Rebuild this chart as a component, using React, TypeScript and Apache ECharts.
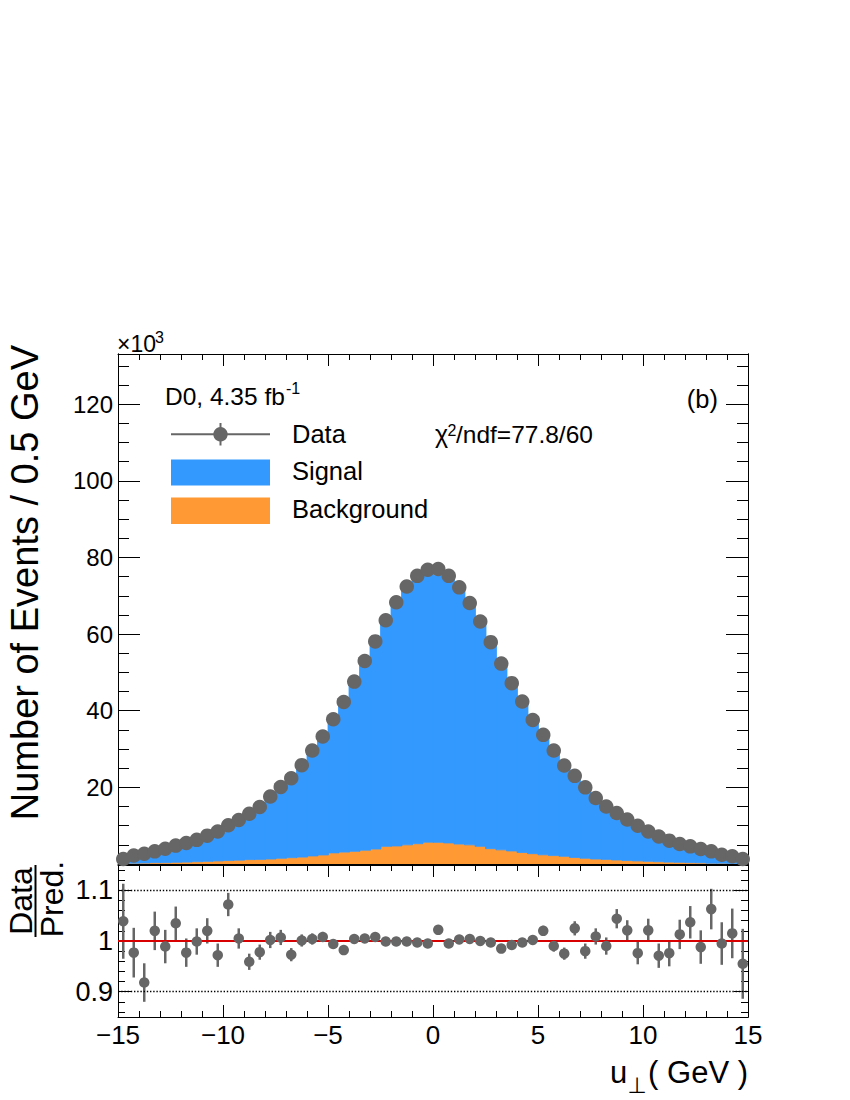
import React, { useEffect, useRef } from "react";
import * as echarts from "echarts";

// ---------- data (values in units of 10^3 events per 0.5 GeV) ----------
const BIN_START = -15;
const BIN_WIDTH = 0.5;

const dataCounts = [
  1.3, 2.2, 2.7, 3.3, 4.0, 4.8, 5.5, 6.3, 7.4, 8.5,
  10.1, 11.5, 13.1, 14.9, 17.6, 20.1, 22.4, 25.8, 29.6, 33.3,
  37.8, 42.3, 47.6, 53.0, 58.1, 63.6, 68.3, 72.4, 75.2, 76.8,
  77.0, 75.2, 72.2, 68.1, 63.3, 57.9, 52.3, 47.2, 42.4, 37.6,
  33.7, 29.6, 25.7, 23.0, 20.0, 17.2, 15.0, 13.3, 11.6, 10.0,
  8.5, 7.2, 6.1, 5.2, 4.6, 3.9, 3.3, 2.4, 2.0, 1.3,
];

const signalCounts = [
  1.15, 2.05, 2.7, 2.9, 3.7, 4.2, 5.1, 5.7, 6.55, 7.95,
  8.5, 10.45, 12.5, 14.0, 16.25, 18.45, 21.35, 23.95, 27.4, 30.7,
  35.1, 40.0, 44.1, 49.1, 53.7, 59.1, 63.7, 67.5, 70.1, 71.5,
  69.7, 70.1, 66.8, 62.8, 58.7, 54.1, 49.4, 44.2, 39.5, 34.8,
  30.6, 27.7, 24.4, 20.7, 18.9, 15.75, 13.95, 11.7, 10.45, 9.45,
  7.6, 6.8, 5.75, 4.7, 4.1, 3.65, 2.9, 2.2, 1.85, 1.25,
];

const backgroundCounts = [
  0.1, 0.2, 0.25, 0.35, 0.35, 0.45, 0.5, 0.6, 0.7, 0.8,
  0.9, 1.0, 1.15, 1.2, 1.3, 1.5, 1.65, 1.8, 2.1, 2.35,
  2.9, 3.1, 3.3, 3.6, 3.9, 4.6, 4.7, 5.0, 5.3, 5.7,
  5.65, 5.5, 5.2, 5.0, 4.6, 4.0, 3.7, 3.4, 3.0, 2.7,
  2.4, 2.2, 2.0, 1.7, 1.5, 1.3, 1.2, 1.05, 0.9, 0.8,
  0.7, 0.6, 0.5, 0.45, 0.35, 0.3, 0.2, 0.2, 0.1, 0.1,
];

const ratioValues = [
  1.039, 0.977, 0.918, 1.02, 0.989, 1.035, 0.977, 0.999, 1.02, 0.972,
  1.072, 1.005, 0.959, 0.978, 1.002, 1.007, 0.973, 1.001, 1.004, 1.008,
  0.994, 0.982, 1.004, 1.005, 1.008, 0.999, 0.999, 0.999, 0.997, 0.995,
  1.022, 0.995, 1.003, 1.004, 1.0, 0.997, 0.985, 0.992, 0.997, 1.002,
  1.02, 0.99, 0.975, 1.025, 0.98, 1.009, 0.99, 1.044, 1.021, 0.976,
  1.021, 0.971, 0.976, 1.013, 1.037, 0.988, 1.063, 0.995, 1.015, 0.955,
];

const ratioErrors = [
  0.074, 0.049, 0.038, 0.038, 0.033, 0.033, 0.028, 0.026, 0.025, 0.023,
  0.023, 0.02, 0.016, 0.015, 0.016, 0.015, 0.013, 0.012, 0.011, 0.01,
  0.009, 0.008, 0.007, 0.007, 0.006, 0.006, 0.005, 0.005, 0.005, 0.005,
  0.005, 0.005, 0.005, 0.005, 0.006, 0.006, 0.007, 0.007, 0.008, 0.009,
  0.01, 0.011, 0.012, 0.014, 0.015, 0.016, 0.017, 0.019, 0.02, 0.022,
  0.023, 0.024, 0.026, 0.029, 0.032, 0.033, 0.04, 0.042, 0.049, 0.069,
];

const mainYMajorTicks = [20, 40, 60, 80, 100, 120];
const mainYMinorTicks = [5, 10, 15, 25, 30, 35, 45, 50, 55, 65, 70, 75, 85, 90, 95, 105, 110, 115, 125, 130];
const ratioYMajorTicks = [0.9, 1, 1.1];
const ratioYMinorTicks = [0.86, 0.88, 0.92, 0.94, 0.96, 0.98, 1.02, 1.04, 1.06, 1.08, 1.12, 1.14];

// ---------- styling ----------
const FONT = '"Liberation Sans", Arial, Helvetica, "DejaVu Sans", sans-serif';
const GREY = "#666666";
const BLUE = "#3399ff";
const ORANGE = "#ff9933";
const BLACK = "#000000";

const MAIN_Y_MAX = 133.1;
const RATIO_MIN = 0.85;
const RATIO_MAX = 1.15;

const binLow = dataCounts.map((_, i) => BIN_START + i * BIN_WIDTH);
const binCenter = binLow.map((b) => b + BIN_WIDTH / 2);

const lineStyle = { color: BLACK, width: 1 };

function xAxisDef(gridIndex: number, position: "top" | "bottom", showLabels: boolean) {
  return {
    type: "value",
    gridIndex,
    position,
    min: -15,
    max: 15,
    interval: 5,
    axisLine: { show: true, onZero: false, lineStyle },
    axisTick: { show: true, inside: true, length: 12, lineStyle },
    minorTick: { show: true, splitNumber: 5, length: 6, lineStyle },
    splitLine: { show: false },
    minorSplitLine: { show: false },
    axisLabel: showLabels
      ? {
          show: true,
          margin: 5,
          fontSize: 26,
          fontFamily: FONT,
          color: BLACK,
          formatter: (v: number) => (v < 0 ? "\u2212" + Math.abs(v) : String(v)),
        }
      : { show: false },
  };
}

function yAxisDef(
  gridIndex: number,
  position: "left" | "right",
  min: number,
  max: number,
  ticks: number[],
  length: number,
  label?: { fs: number; fmt: (v: number) => string }
) {
  return {
    type: "value",
    gridIndex,
    position,
    min,
    max,
    axisLine: { show: true, onZero: false, lineStyle },
    axisTick: { show: true, inside: true, length, customValues: ticks, lineStyle },
    splitLine: { show: false },
    axisLabel: label
      ? {
          show: true,
          customValues: ticks,
          margin: 5,
          fontSize: label.fs,
          fontFamily: FONT,
          color: BLACK,
          formatter: label.fmt,
        }
      : { show: false },
  };
}

function histRender(color: string) {
  return (params: any, api: any) => {
    const x0 = api.value(0);
    const x1 = api.value(1);
    const y0 = api.value(2);
    const y1 = api.value(3);
    const a = api.coord([x0, y1]);
    const b = api.coord([x1, y0]);
    return {
      type: "rect",
      shape: { x: a[0], y: a[1], width: b[0] - a[0] + 0.5, height: b[1] - a[1] },
      style: { fill: color, stroke: color, lineWidth: 0.8 },
    };
  };
}

function txt(text: string, x: number, y: number, fs: number, align = "left", extra: any = {}) {
  return {
    type: "text",
    x,
    y,
    silent: true,
    z: 20,
    style: { text, fontSize: fs, fontFamily: FONT, fill: BLACK, align, verticalAlign: "middle" },
    ...extra,
  };
}

export default function App() {
  const ref = useRef<HTMLDivElement>(null);

  useEffect(() => {
    document.body.style.margin = "0";
    if (!ref.current) return;
    const chart = echarts.init(ref.current, null, { renderer: "svg" });

    const bgData = binLow.map((lo, i) => [lo, lo + BIN_WIDTH, 0, backgroundCounts[i]]);
    const sigData = binLow.map((lo, i) => [
      lo,
      lo + BIN_WIDTH,
      backgroundCounts[i],
      backgroundCounts[i] + signalCounts[i],
    ]);
    const pointData = binCenter.map((c, i) => [c, dataCounts[i]]);
    const ratioData = binCenter.map((c, i) => [c, ratioValues[i]]);
    const ratioErrData = binCenter.map((c, i) => [c, ratioValues[i] - ratioErrors[i], ratioValues[i] + ratioErrors[i]]);

    const dotted = { type: [1.4, 1.8], color: BLACK, width: 1.3 };

    const graphic: any[] = [
      // x10^3
      txt("\u00d710", 117, 344, 23),
      txt("3", 155, 337, 16),
      // experiment label
      txt("D0, 4.35 fb", 165, 396, 24.5),
      txt("-1", 286, 388, 16),
      txt("(b)", 718, 399, 25.5, "right"),
      // legend
      { type: "line", silent: true, z: 20, shape: { x1: 171, y1: 434.3, x2: 270, y2: 434.3 }, style: { stroke: GREY, lineWidth: 2 } },
      { type: "line", silent: true, z: 20, shape: { x1: 220.5, y1: 423, x2: 220.5, y2: 445.5 }, style: { stroke: GREY, lineWidth: 2 } },
      { type: "circle", silent: true, z: 21, shape: { cx: 220.5, cy: 434.3, r: 7.2 }, style: { fill: GREY } },
      { type: "rect", silent: true, z: 20, shape: { x: 171, y: 459.5, width: 99, height: 26 }, style: { fill: BLUE } },
      { type: "rect", silent: true, z: 20, shape: { x: 171, y: 497.5, width: 99, height: 26.5 }, style: { fill: ORANGE } },
      txt("Data", 292, 434, 25.5),
      txt("Signal", 292, 471, 25.5),
      txt("Background", 292, 509, 25.5),
      txt("\u03c7", 435, 434, 25),
      txt("2", 447.5, 430, 16),
      txt("/ndf=77.8/60", 456, 434, 24.5),
      // y title (main)
      txt("Number of Events / 0.5 GeV", 25, 345, 38, "right", { rotation: Math.PI / 2 }),
      // ratio title
      txt("Data", 20.5, 901, 32, "center", { rotation: Math.PI / 2 }),
      { type: "line", silent: true, z: 20, shape: { x1: 35.5, y1: 865, x2: 35.5, y2: 937 }, style: { stroke: BLACK, lineWidth: 2 } },
      txt("Pred.", 51.5, 899, 32, "center", { rotation: Math.PI / 2 }),
      // x title
      txt("u", 610, 1072, 31),
      txt("\u22a5", 627.5, 1085, 22),
      txt("( GeV )", 748, 1072, 31, "right"),
    ];

    const option: any = {
      animation: false,
      backgroundColor: "#ffffff",
      textStyle: { fontFamily: FONT },
      grid: [
        { left: 118, top: 354, width: 630, height: 510, containLabel: false, outerBoundsMode: "none" },
        { left: 118, top: 865, width: 630, height: 152, containLabel: false, outerBoundsMode: "none" },
      ],
      xAxis: [
        xAxisDef(0, "bottom", false),
        xAxisDef(0, "top", false),
        xAxisDef(1, "bottom", true),
        xAxisDef(1, "top", false),
      ],
      yAxis: [
        yAxisDef(0, "left", 0, MAIN_Y_MAX, mainYMajorTicks, 22, { fs: 24, fmt: (v: number) => String(v) }),
        yAxisDef(0, "left", 0, MAIN_Y_MAX, mainYMinorTicks, 11),
        yAxisDef(0, "right", 0, MAIN_Y_MAX, mainYMajorTicks, 22),
        yAxisDef(0, "right", 0, MAIN_Y_MAX, mainYMinorTicks, 11),
        yAxisDef(1, "left", RATIO_MIN, RATIO_MAX, ratioYMajorTicks, 14, {
          fs: 27,
          fmt: (v: number) => (Math.abs(v - 1) < 1e-9 ? "1" : v.toFixed(1)),
        }),
        yAxisDef(1, "left", RATIO_MIN, RATIO_MAX, ratioYMinorTicks, 7),
        yAxisDef(1, "right", RATIO_MIN, RATIO_MAX, ratioYMajorTicks, 14),
        yAxisDef(1, "right", RATIO_MIN, RATIO_MAX, ratioYMinorTicks, 7),
      ],
      series: [
        {
          name: "Background",
          type: "custom",
          xAxisIndex: 0,
          yAxisIndex: 0,
          clip: true,
          z: 2,
          renderItem: histRender(ORANGE),
          encode: { x: [0, 1], y: [2, 3] },
          data: bgData,
        },
        {
          name: "Signal",
          type: "custom",
          xAxisIndex: 0,
          yAxisIndex: 0,
          clip: true,
          z: 2,
          renderItem: histRender(BLUE),
          encode: { x: [0, 1], y: [2, 3] },
          data: sigData,
        },
        {
          name: "Data",
          type: "scatter",
          xAxisIndex: 0,
          yAxisIndex: 0,
          symbol: "circle",
          symbolSize: 14.5,
          itemStyle: { color: GREY, opacity: 1 },
          z: 5,
          data: pointData,
        },
        {
          name: "RatioRef",
          type: "line",
          xAxisIndex: 2,
          yAxisIndex: 4,
          showSymbol: false,
          symbol: "none",
          lineStyle: { opacity: 0, width: 0 },
          z: 1,
          silent: true,
          data: ratioData,
          markLine: {
            silent: true,
            symbol: ["none", "none"],
            label: { show: false },
            animation: false,
            data: [
              { yAxis: 1.1, lineStyle: dotted },
              { yAxis: 0.9, lineStyle: dotted },
              { yAxis: 1, lineStyle: { type: "solid", color: "#d80000", width: 2 } },
            ],
          },
        },
        {
          name: "RatioErr",
          type: "custom",
          xAxisIndex: 2,
          yAxisIndex: 4,
          clip: true,
          z: 4,
          encode: { x: 0, y: [1, 2] },
          renderItem: (params: any, api: any) => {
            const x = api.value(0);
            const lo = api.coord([x, api.value(1)]);
            const hi = api.coord([x, api.value(2)]);
            return {
              type: "line",
              shape: { x1: lo[0], y1: lo[1], x2: hi[0], y2: hi[1] },
              style: { stroke: GREY, lineWidth: 2.5 },
            };
          },
          data: ratioErrData,
        },
        {
          name: "Ratio",
          type: "scatter",
          xAxisIndex: 2,
          yAxisIndex: 4,
          symbol: "circle",
          symbolSize: 10.5,
          itemStyle: { color: GREY, opacity: 1 },
          z: 5,
          data: ratioData,
        },
      ],
      graphic,
    };

    chart.setOption(option);
    return () => chart.dispose();
  }, []);

  return <div ref={ref} style={{ width: 850, height: 1100 }} />;
}
